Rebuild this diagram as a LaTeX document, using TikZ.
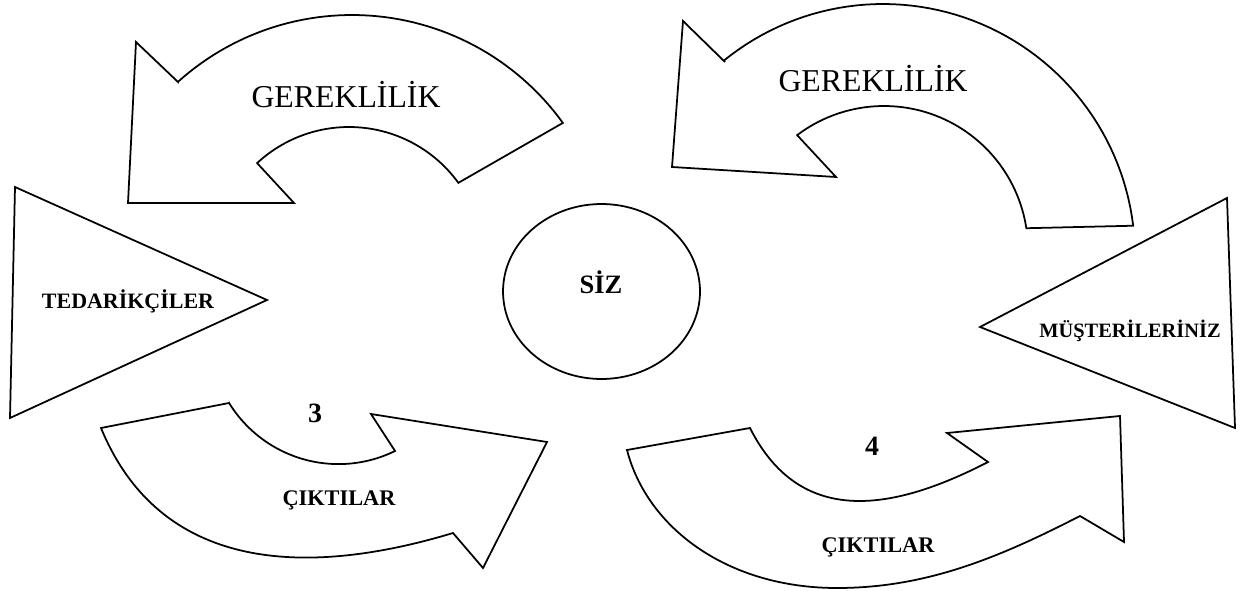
\documentclass[tikz,border=0pt]{standalone}
\usepackage{fontspec}
\setmainfont{Liberation Serif}
\begin{document}
\begin{tikzpicture}[x=0.02cm,y=-0.02cm,
  shp/.style={draw=black, line width=1pt, line join=miter, fill=white},
  big/.style={font=\fontsize{18.1}{20}\selectfont, inner sep=0pt, anchor=base},
  lbl/.style={font=\bfseries\fontsize{12.5}{14}\selectfont, inner sep=0pt, anchor=base},
  num/.style={font=\bfseries\fontsize{15.9}{18}\selectfont, inner sep=0pt, anchor=base}]
\useasboundingbox[fill=white] (0,0) rectangle (1243,591);

% top-left arrow (GEREKLILIK)
\draw[shp] (136,42) -- (178,82)
  -- plot[domain=-132:-35.8, samples=60] ({352+260*cos(\x)},{275+260*sin(\x)})
  -- plot[domain=-35.9:-132.9, samples=60] ({349+135*cos(\x)},{262+135*sin(\x)})
  -- (294,203) -- (128,203) -- cycle;

% top-right arrow (GEREKLILIK)
\draw[shp] (683,21) -- (725,62)
  -- plot[domain=-129.2:-6.9, samples=60] ({883+252*cos(\x)},{256+252*sin(\x)})
  -- plot[domain=-8.7:-127.1, samples=60] ({884+144*cos(\x)},{250+144*sin(\x)})
  -- (836,177) -- (672,167) -- cycle;

% bottom-left arrow (3, CIKTILAR)
\draw[shp] (101,428) -- (229,403)
  -- plot[domain=148.4:63.9, samples=60] ({338.5+128.5*cos(\x)},{335.6+128.5*sin(\x)})
  -- (371,414) -- (547,442) -- (483,568) -- (453,533)
  .. controls (304,578) and (160,571) .. (101,428)
  -- cycle;

% bottom-right arrow (4, CIKTILAR)
\draw[shp] (627,450) -- (750,428)
  .. controls (799.5,526) and (890,512.6) .. (988,462)
  -- (947,433) -- (1120,416) -- (1124,542) -- (1080,516)
  .. controls (1000,557) and (927,588) .. (837,588)
  .. controls (727,588) and (647,527.6) .. (627,450)
  -- cycle;

% triangles
\draw[shp] (15,187) -- (267,300) -- (10,418) -- cycle;
\draw[shp] (1227,198) -- (980,327) -- (1235,428) -- cycle;

% center circle
\draw[shp] (601.5,291.5) ellipse [x radius=1.97cm, y radius=1.75cm];

% texts
\node[big] (g1) at (346,108) {GEREKLİLİK};
\node[big] (g2) at (873,92) {GEREKLİLİK};
\node[lbl] (ted) at (128,308) {TEDARİKÇİLER};
\node[lbl, font=\bfseries\fontsize{11.6}{13}\selectfont] (mus) at (1130,337) {MÜŞTERİLERİNİZ};
\node[lbl, font=\bfseries\fontsize{15.1}{17}\selectfont] (siz) at (601,293) {SİZ};
\node[num] (n3) at (315,422) {3};
\node[num] (n4) at (872,455) {4};
\node[lbl, font=\bfseries\fontsize{12.7}{14}\selectfont] (c1) at (339,505) {ÇIKTILAR};
\node[lbl, font=\bfseries\fontsize{12.7}{14}\selectfont] (c2) at (878,552) {ÇIKTILAR};
\end{tikzpicture}
\end{document}
